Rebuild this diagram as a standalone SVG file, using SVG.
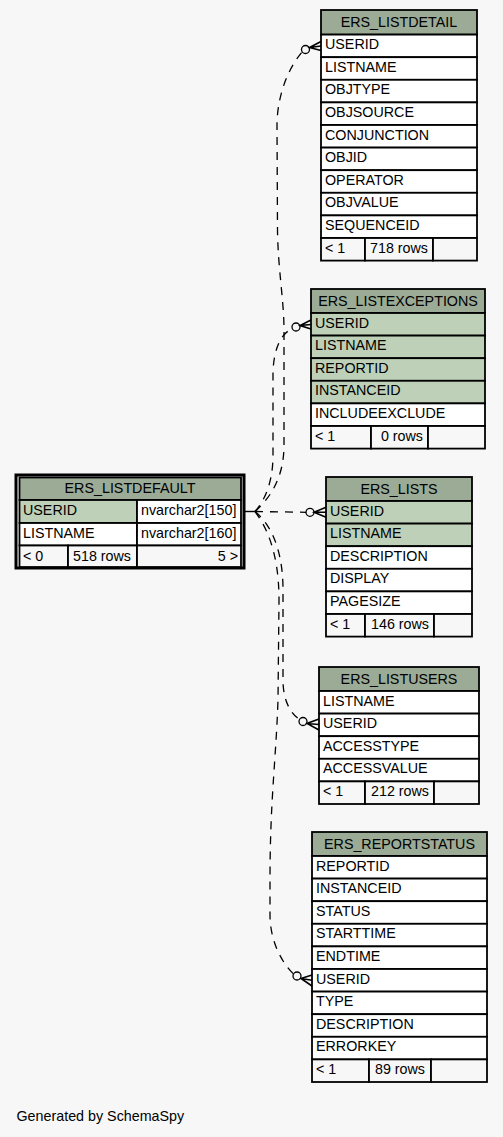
<svg xmlns="http://www.w3.org/2000/svg" width="503" height="1137" viewBox="0 0 503 1137">
<style>
text{font-family:"Liberation Sans",Arial,sans-serif;font-size:14.3px;fill:#000}
.c{text-anchor:middle}
.e{text-anchor:end}
.hd{fill:#9bab96;stroke:#000;stroke-width:1.8}
.k{fill:#bed1b8;stroke:#000;stroke-width:1.8}
.w{fill:#fff;stroke:#000;stroke-width:1.8}
.f{fill:#f7f7f7;stroke:#000;stroke-width:1.8}
.ln{fill:none;stroke:#000;stroke-width:1.3;stroke-dasharray:8,7}
.cr{fill:none;stroke:#000;stroke-width:1.6}
.ci{fill:none;stroke:#000;stroke-width:1.3}
</style>
<rect x="0" y="0" width="503" height="1137" fill="#f7f7f7"/>

<g id="connectors">
<path d="M244,511.5 L255,511.5" fill="none" stroke="#000" stroke-width="1.4"/>
<path class="ln" d="M255,511.5 C270,498 284,478 284,445 L284,330 C284,300 278,270 277.5,230 L277,125 C277,105 283,75 302,52"/>
<path class="ln" d="M255,511.5 C265,500 273,482 273,455 L273,375 C273,350 281,333 292,329"/>
<path class="ln" d="M255,511.5 L306,512.3"/>
<path class="ln" d="M255,511.5 C268,522 283,545 283,590 L283,680 C283,700 290,713 299.5,719.5"/>
<path class="ln" d="M255,511.5 C265,525 279,550 279,600 L278,700 C276,760 270,800 270,880 L270,915 C270,940 281,962 293.5,974"/>
<circle class="ci" cx="305.5" cy="49.5" r="4"/>
<path class="cr" d="M321,41.5 L309.5,47.5 L321,50.5 M309.5,47.5 L321,46"/>
<circle class="ci" cx="296" cy="327" r="4"/>
<path class="cr" d="M311,320 L300,325.5 L311,329 M300,325.5 L311,324.5"/>
<circle class="ci" cx="310" cy="512.3" r="4"/>
<path class="cr" d="M326,507.3 L314,512.3 L326,517.3 M314,512.3 L326,512.3"/>
<circle class="ci" cx="303" cy="721.5" r="4"/>
<path class="cr" d="M319,719 L307,723.5 L319,730 M307,723.5 L319,724.5"/>
<circle class="ci" cx="297" cy="976" r="4"/>
<path class="cr" d="M312,975 L301,978.5 L312,986 M301,978.5 L312,980.3"/>
</g>

<g id="ERS_LISTDEFAULT">
<rect x="16" y="475" width="228" height="93" fill="none" stroke="#000" stroke-width="3"/>
<rect class="hd" x="19.5" y="477.5" width="221.5" height="22.5"/>
<text class="c" x="130" y="492.5">ERS_LISTDEFAULT</text>
<rect class="k" x="19.5" y="500" width="117.5" height="23"/>
<rect class="w" x="137" y="500" width="104" height="23"/>
<text x="23" y="515">USERID</text>
<text x="141" y="515">nvarchar2[150]</text>
<rect class="w" x="19.5" y="523" width="117.5" height="22.5"/>
<rect class="w" x="137" y="523" width="104" height="22.5"/>
<text x="23" y="538">LISTNAME</text>
<text x="141" y="538">nvarchar2[160]</text>
<rect class="f" x="19.5" y="545.5" width="48.5" height="21.5"/>
<rect class="f" x="68" y="545.5" width="69" height="21.5"/>
<rect class="f" x="137" y="545.5" width="104" height="21.5"/>
<text x="23" y="560.5">&lt; 0</text>
<text class="e" x="131" y="560.5">518 rows</text>
<text class="e" x="238" y="560.5">5 &gt;</text>
</g>

<g id="ERS_LISTDETAIL">
<rect class="hd" x="321" y="10" width="156" height="24.6"/>
<text class="c" x="399" y="26.5">ERS_LISTDETAIL</text>
<rect class="w" x="321" y="34.6" width="156" height="22.6"/><text x="325" y="49.1">USERID</text>
<rect class="w" x="321" y="57.2" width="156" height="22.6"/><text x="325" y="71.7">LISTNAME</text>
<rect class="w" x="321" y="79.8" width="156" height="22.6"/><text x="325" y="94.3">OBJTYPE</text>
<rect class="w" x="321" y="102.4" width="156" height="22.6"/><text x="325" y="116.9">OBJSOURCE</text>
<rect class="w" x="321" y="125" width="156" height="22.6"/><text x="325" y="139.5">CONJUNCTION</text>
<rect class="w" x="321" y="147.6" width="156" height="22.6"/><text x="325" y="162.1">OBJID</text>
<rect class="w" x="321" y="170.2" width="156" height="22.6"/><text x="325" y="184.7">OPERATOR</text>
<rect class="w" x="321" y="192.8" width="156" height="22.6"/><text x="325" y="207.3">OBJVALUE</text>
<rect class="w" x="321" y="215.4" width="156" height="22.6"/><text x="325" y="229.9">SEQUENCEID</text>
<rect class="f" x="321" y="238" width="44" height="22.6"/>
<rect class="f" x="365" y="238" width="68" height="22.6"/>
<rect class="f" x="433" y="238" width="44" height="22.6"/>
<text x="325" y="252.5">&lt; 1</text>
<text class="e" x="428" y="252.5">718 rows</text>
</g>

<g id="ERS_LISTEXCEPTIONS">
<rect class="hd" x="311" y="289" width="174" height="24"/>
<text class="c" x="398" y="305.5">ERS_LISTEXCEPTIONS</text>
<rect class="k" x="311" y="313" width="174" height="22.6"/><text x="315" y="327.5">USERID</text>
<rect class="k" x="311" y="335.6" width="174" height="22.6"/><text x="315" y="350.1">LISTNAME</text>
<rect class="k" x="311" y="358.2" width="174" height="22.6"/><text x="315" y="372.7">REPORTID</text>
<rect class="k" x="311" y="380.8" width="174" height="22.6"/><text x="315" y="395.3">INSTANCEID</text>
<rect class="w" x="311" y="403.4" width="174" height="22.6"/><text x="315" y="417.9">INCLUDEEXCLUDE</text>
<rect class="f" x="311" y="426" width="60" height="22.6"/>
<rect class="f" x="371" y="426" width="57" height="22.6"/>
<rect class="f" x="428" y="426" width="57" height="22.6"/>
<text x="315" y="440.5">&lt; 1</text>
<text class="e" x="423" y="440.5">0 rows</text>
</g>

<g id="ERS_LISTS">
<rect class="hd" x="326" y="477" width="146" height="24"/>
<text class="c" x="399" y="493.5">ERS_LISTS</text>
<rect class="k" x="326" y="501" width="146" height="22.6"/><text x="330" y="515.5">USERID</text>
<rect class="k" x="326" y="523.6" width="146" height="22.6"/><text x="330" y="538.1">LISTNAME</text>
<rect class="w" x="326" y="546.2" width="146" height="22.6"/><text x="330" y="560.7">DESCRIPTION</text>
<rect class="w" x="326" y="568.8" width="146" height="22.6"/><text x="330" y="583.3">DISPLAY</text>
<rect class="w" x="326" y="591.4" width="146" height="22.6"/><text x="330" y="605.9">PAGESIZE</text>
<rect class="f" x="326" y="614" width="39" height="22.6"/>
<rect class="f" x="365" y="614" width="69" height="22.6"/>
<rect class="f" x="434" y="614" width="38" height="22.6"/>
<text x="330" y="628.5">&lt; 1</text>
<text class="e" x="429" y="628.5">146 rows</text>
</g>

<g id="ERS_LISTUSERS">
<rect class="hd" x="319" y="667" width="160" height="24"/>
<text class="c" x="399" y="683.5">ERS_LISTUSERS</text>
<rect class="w" x="319" y="691" width="160" height="22.6"/><text x="323" y="705.5">LISTNAME</text>
<rect class="w" x="319" y="713.6" width="160" height="22.6"/><text x="323" y="728.1">USERID</text>
<rect class="w" x="319" y="736.2" width="160" height="22.6"/><text x="323" y="750.7">ACCESSTYPE</text>
<rect class="w" x="319" y="758.8" width="160" height="22.6"/><text x="323" y="773.3">ACCESSVALUE</text>
<rect class="f" x="319" y="781.4" width="46" height="22.6"/>
<rect class="f" x="365" y="781.4" width="69" height="22.6"/>
<rect class="f" x="434" y="781.4" width="45" height="22.6"/>
<text x="323" y="795.9">&lt; 1</text>
<text class="e" x="429" y="795.9">212 rows</text>
</g>

<g id="ERS_REPORTSTATUS">
<rect class="hd" x="312" y="832" width="175" height="24"/>
<text class="c" x="399.5" y="848.5">ERS_REPORTSTATUS</text>
<rect class="w" x="312" y="856" width="175" height="22.6"/><text x="316" y="870.5">REPORTID</text>
<rect class="w" x="312" y="878.6" width="175" height="22.6"/><text x="316" y="893.1">INSTANCEID</text>
<rect class="w" x="312" y="901.2" width="175" height="22.6"/><text x="316" y="915.7">STATUS</text>
<rect class="w" x="312" y="923.8" width="175" height="22.6"/><text x="316" y="938.3">STARTTIME</text>
<rect class="w" x="312" y="946.4" width="175" height="22.6"/><text x="316" y="960.9">ENDTIME</text>
<rect class="w" x="312" y="969" width="175" height="22.6"/><text x="316" y="983.5">USERID</text>
<rect class="w" x="312" y="991.6" width="175" height="22.6"/><text x="316" y="1006.1">TYPE</text>
<rect class="w" x="312" y="1014.2" width="175" height="22.6"/><text x="316" y="1028.7">DESCRIPTION</text>
<rect class="w" x="312" y="1036.8" width="175" height="22.6"/><text x="316" y="1051.3">ERRORKEY</text>
<rect class="f" x="312" y="1059.4" width="57" height="22.6"/>
<rect class="f" x="369" y="1059.4" width="62" height="22.6"/>
<rect class="f" x="431" y="1059.4" width="56" height="22.6"/>
<text x="316" y="1073.9">&lt; 1</text>
<text class="e" x="425" y="1073.9">89 rows</text>
</g>

<text x="16.5" y="1121">Generated by SchemaSpy</text>
</svg>
